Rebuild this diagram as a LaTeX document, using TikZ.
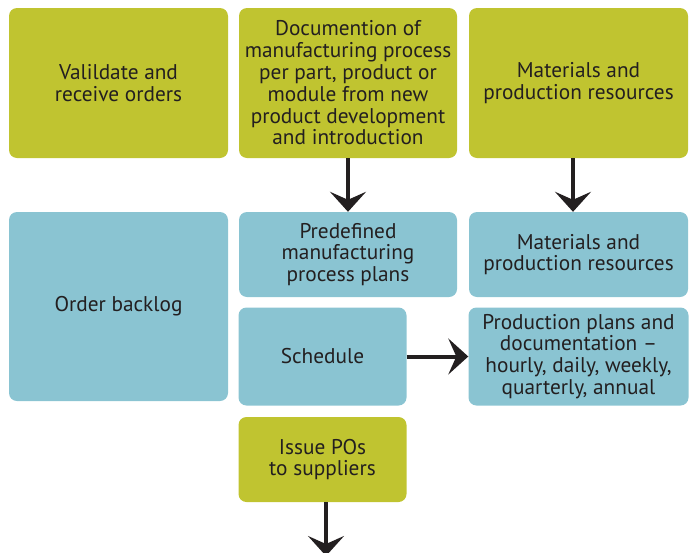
\documentclass[tikz,border=0pt]{standalone}
\usepackage{fontspec}
\setmainfont{PT Sans}
\usepackage{xcolor}
\usepackage{tikz}
\usetikzlibrary{arrows.meta}

\definecolor{boxgreen}{RGB}{192,196,48}
\definecolor{boxblue}{RGB}{138,196,210}
\definecolor{inkgray}{RGB}{35,31,32}

\begin{document}
\begin{tikzpicture}[x=1pt, y=-1pt,
        step box/.style={rectangle, rounded corners=8pt, align=center, text=inkgray,
            font=\fontsize{21.3}{21.8}\selectfont, inner sep=0pt},
        green box/.style={step box, fill=boxgreen},
        blue box/.style={step box, fill=boxblue},
        arrow/.style={-{Stealth[length=20pt, width=36pt, inset=8pt]}, line width=4pt, draw=inkgray}
    ]
        \useasboundingbox (0,0) rectangle (694,552);

        \node[green box, minimum width=219pt, minimum height=150pt] (validate) at (118.5,83) {Valildate and\\receive orders};
        \node[green box, minimum width=218pt, minimum height=150pt] (docu) at (348,83) {Documention of\\manufacturing process\\per part, product or\\module from new\\product development\\and introduction};
        \node[green box, minimum width=219pt, minimum height=150pt] (materials) at (578.5,83) {Materials and\\production resources};

        \node[blue box, minimum width=219pt, minimum height=189pt] (backlog) at (118.5,306.5) {Order backlog};
        \node[blue box, minimum width=218pt, minimum height=85pt] (predefined) at (348,254.5) {Predefined\\manufacturing\\process plans};
        \node[blue box, minimum width=219pt, minimum height=85pt] (resources) at (578.5,254.5) {Materials and\\production resources};
        \node[blue box, minimum width=168pt, minimum height=98pt] (schedule) at (322.5,356.5) {Schedule};
        \node[blue box, minimum width=220pt, minimum height=98pt] (plans) at (578.5,356.5) {Production plans and\\documentation --\\hourly, daily, weekly,\\quarterly, annual};
        \node[green box, minimum width=168pt, minimum height=85pt] (issue) at (322.5,459.5) {Issue POs\\to suppliers};

        \coordinate (out) at (326,556);

        \draw[arrow] (docu) -- (predefined);
        \draw[arrow] (materials.south -| 573,0) -- (resources.north -| 573,0);
        \draw[arrow] (schedule) -- (plans);
        \draw[arrow] (issue.south -| out) -- (out);
    \end{tikzpicture}
\end{document}
